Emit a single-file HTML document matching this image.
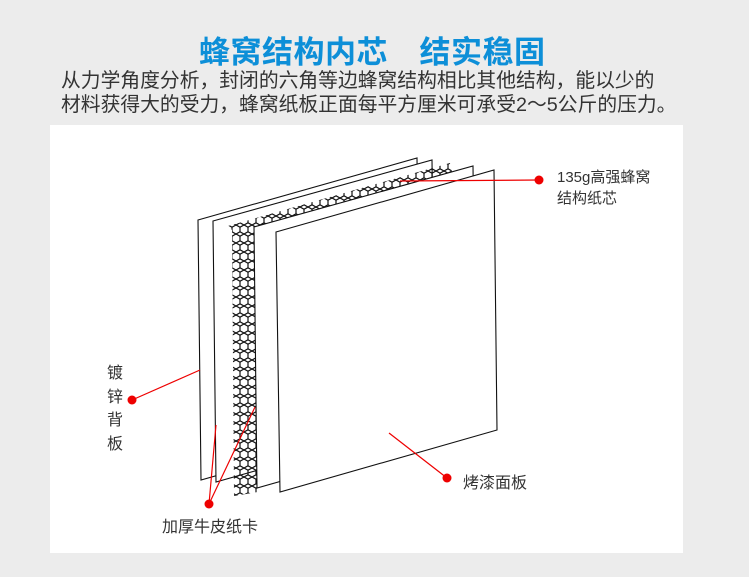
<!DOCTYPE html>
<html><head><meta charset="utf-8"><style>
body{margin:0;width:749px;height:577px;background:#ececec;position:relative;overflow:hidden;font-family:"Liberation Sans","Noto Sans CJK SC",sans-serif;}
.t{position:absolute;white-space:nowrap;}
</style></head><body>
<div class="t" style="left:199px;top:27px;font-size:31px;font-weight:bold;color:#0d8fd8;letter-spacing:0.5px;">蜂窝结构内芯&#12288;结实稳固</div>
<div class="t" style="left:61px;top:69px;font-size:19.8px;color:#333;line-height:24px;">从力学角度分析，封闭的六角等边蜂窝结构相比其他结构，能以少的<br>材料获得大的受力，蜂窝纸板正面每平方厘米可承受2～5公斤的压力。</div>
<div style="position:absolute;left:50px;top:125px;width:633px;height:428px;background:#fff;"></div>
<svg style="position:absolute;left:0;top:0" width="749" height="577">
<defs>
<pattern id="hc" width="8" height="9" patternUnits="userSpaceOnUse">
<path d="M0 2.2 L4 0 L8 2.2 L8 6.8 L4 9 L0 6.8 Z" fill="none" stroke="#111" stroke-width="1.2"/>
</pattern>
</defs>
<g stroke="#111" stroke-width="1.1" fill="#fff">
<polygon points="198,220 417,158 420,418 201,480"/>
<polygon points="213,221 432,160 435,420 216,482"/>
<polygon points="228,226 450,163 452,172 258,226 258,492 234,496 232,230" fill="url(#hc)" stroke="none"/>
<polygon points="254,227 473,166 476,426 257,488"/>
<polygon points="276,232 494,170 497,430 280,492"/>
</g>
<g stroke="#e00" stroke-width="1.2" fill="#e00">
<line x1="400" y1="181" x2="539" y2="180"/><circle cx="539" cy="180" r="4.5" stroke="none"/>
<line x1="200" y1="370" x2="132" y2="400"/><circle cx="132" cy="400" r="4.5" stroke="none"/>
<line x1="216" y1="425" x2="209" y2="504"/><line x1="255" y1="407" x2="209" y2="504"/><circle cx="209" cy="504" r="4.5" stroke="none"/>
<line x1="389" y1="433" x2="447" y2="478"/><circle cx="447" cy="478" r="4.5" stroke="none"/>
</g>
</svg>
<div class="t" style="left:557px;top:167px;font-size:15px;color:#333;line-height:21px;">135g高强蜂窝<br>结构纸芯</div>
<div class="t" style="left:107px;top:362px;font-size:16px;color:#333;line-height:23.5px;width:18px;white-space:normal;">镀锌背板</div>
<div class="t" style="left:162px;top:513px;font-size:16px;color:#333;">加厚牛皮纸卡</div>
<div class="t" style="left:463px;top:469px;font-size:16px;color:#333;">烤漆面板</div>
</body></html>
